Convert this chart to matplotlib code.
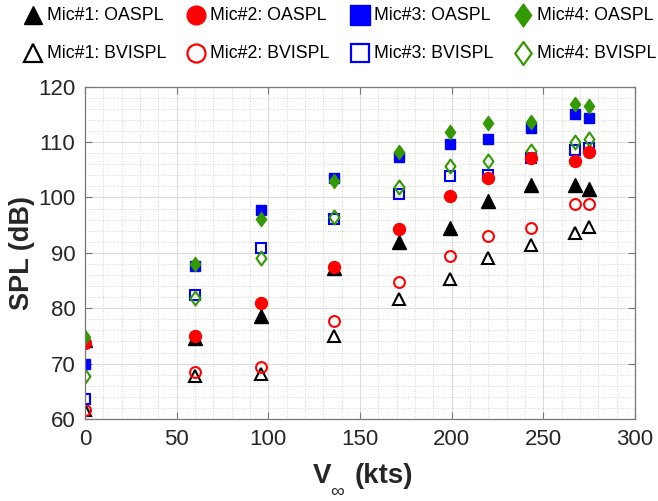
import matplotlib
matplotlib.use("Agg")
import matplotlib.pyplot as plt
from matplotlib.lines import Line2D
from matplotlib.path import Path
from matplotlib.ticker import MultipleLocator

plt.rcParams["font.family"] = ["Liberation Sans", "DejaVu Sans"]

# free-stream speed (kts)
v_kts = [0, 60, 96, 136, 171, 199, 220, 243, 267, 275]

# overall SPL per microphone (dB)
oaspl_mic1 = [74.3, 74.6, 78.6, 87.2, 92.0, 94.5, 99.4, 102.2, 102.2, 101.6]
oaspl_mic2 = [73.7, 75.0, 80.9, 87.5, 94.3, 100.3, 103.5, 107.2, 106.6, 108.2]
oaspl_mic3 = [69.9, 87.7, 97.7, 103.5, 107.3, 109.6, 110.6, 112.5, 115.1, 114.4]
oaspl_mic4 = [74.8, 88.0, 96.1, 103.0, 108.2, 111.9, 113.4, 113.7, 116.9, 116.6]

# BVI SPL per microphone (dB)
bvispl_mic1 = [61.7, 67.8, 68.2, 75.0, 81.7, 85.2, 89.0, 91.5, 93.5, 94.7]
bvispl_mic2 = [61.7, 68.4, 69.3, 77.7, 84.7, 89.4, 93.1, 94.4, 98.9, 98.8]
bvispl_mic3 = [63.6, 82.3, 90.8, 96.1, 100.7, 103.9, 104.0, 107.2, 108.6, 108.9]
bvispl_mic4 = [67.8, 81.8, 89.1, 96.5, 101.9, 105.6, 106.5, 108.4, 110.1, 110.6]

GREEN = "#339900"
# MATLAB-style diamond: taller than wide
DIAMOND = Path([(0, 1), (0.72, 0), (0, -1), (-0.72, 0), (0, 1)],
               [Path.MOVETO, Path.LINETO, Path.LINETO, Path.LINETO, Path.CLOSEPOLY])

# label, values, marker, colour, filled, plot size, legend size
series = [
    ("Mic#1: OASPL", oaspl_mic1, "^", "black", True, 9.4, 13.5),
    ("Mic#2: OASPL", oaspl_mic2, "o", "red", True, 8.6, 13.5),
    ("Mic#3: OASPL", oaspl_mic3, "s", "blue", True, 7.4, 14.0),
    ("Mic#4: OASPL", oaspl_mic4, DIAMOND, GREEN, True, 10.2, 16.5),
    ("Mic#1: BVISPL", bvispl_mic1, "^", "black", False, 9.0, 13.5),
    ("Mic#2: BVISPL", bvispl_mic2, "o", "red", False, 7.8, 13.0),
    ("Mic#3: BVISPL", bvispl_mic3, "s", "blue", False, 6.8, 13.5),
    ("Mic#4: BVISPL", bvispl_mic4, DIAMOND, GREEN, False, 10.0, 16.5),
]

W, H = 658, 501
fig = plt.figure(figsize=(W / 100, H / 100), dpi=100)
ax = fig.add_axes([85 / W, 1 - 419 / H, 550 / W, 332.3 / H])

# open (BVISPL) markers first, filled OASPL markers on top
for label, y, mk, c, filled, ms, _ in series[4:] + series[:4]:
    ax.plot(v_kts, y, linestyle="none", marker=mk, markersize=ms,
            markerfacecolor=c if filled else "none",
            markeredgecolor=c, markeredgewidth=1.0 if filled else 1.5)

ax.set_xlim(0, 300)
ax.set_ylim(60, 120)
ax.xaxis.set_major_locator(MultipleLocator(50))
ax.yaxis.set_major_locator(MultipleLocator(10))
ax.xaxis.set_minor_locator(MultipleLocator(10))
ax.yaxis.set_minor_locator(MultipleLocator(2))
ax.grid(which="major", color="#dcdcdc", lw=0.8, ls="-")
ax.grid(which="minor", color="#c8c8c8", lw=0.6, ls=(0, (1, 2)))
ax.set_axisbelow(True)
ax.tick_params(which="major", direction="in", length=5, top=True, right=True,
               labelsize=16, labelcolor="#262626", color="#777777", pad=7)
ax.tick_params(which="minor", length=0)
for s in ax.spines.values():
    s.set_color("#777777")
    s.set_linewidth(0.9)

ax.set_ylabel("SPL (dB)", fontsize=19.5, fontweight="bold", color="#262626",
              labelpad=2)

# x label: bold V, thin subscript infinity, bold units
lab = dict(color="#262626", transform=fig.transFigure)
fig.text(313 / W, 1 - 483 / H, "V", fontsize=20, fontweight="bold",
         ha="left", va="baseline", **lab)
fig.text(337 / W, 1 - 497 / H, "\u221e", fontsize=14, ha="center",
         va="baseline", **lab)
fig.text(355 / W, 1 - 483 / H, "(kts)", fontsize=20, fontweight="bold",
         ha="left", va="baseline", **lab)

# legend laid out as a 4 x 2 block across the top
col_x = [33, 196, 360, 523]
row_y = [15, 53]
for k, (label, _, mk, c, filled, _, lms) in enumerate(series):
    cx, cy = col_x[k % 4], row_y[k // 4]
    fig.add_artist(Line2D([cx / W], [1 - cy / H], transform=fig.transFigure,
                          linestyle="none", marker=mk, markersize=lms,
                          markerfacecolor=c if filled else "none",
                          markeredgecolor=c,
                          markeredgewidth=1.0 if filled else 1.6))
    fig.text((cx + 14) / W, 1 - cy / H, label, fontsize=12.8, ha="left",
             va="center", color="black")

fig.savefig("out.png", dpi=100)
